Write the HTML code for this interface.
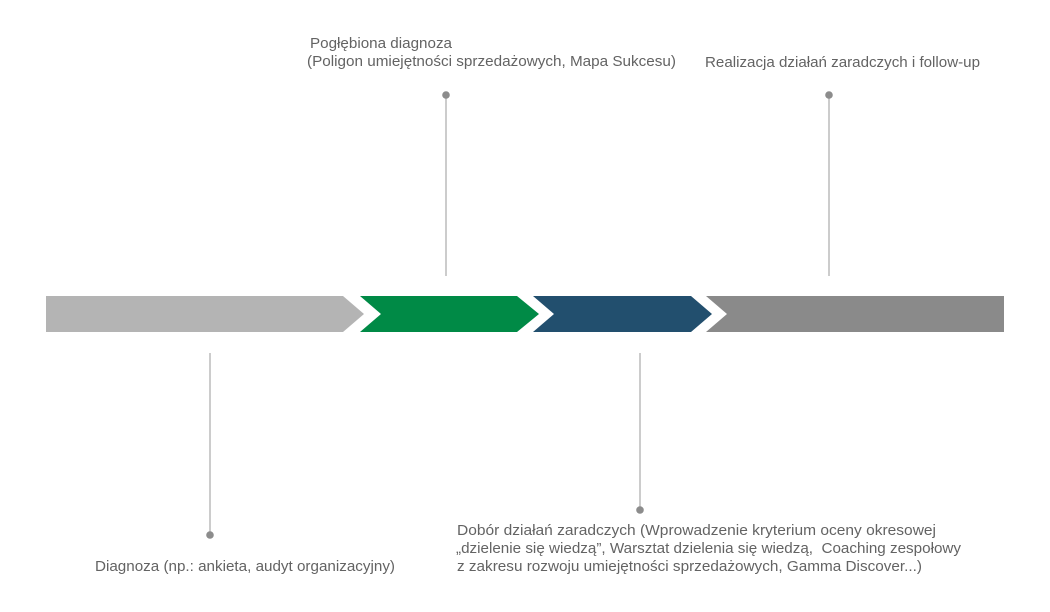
<!DOCTYPE html>
<html>
<head>
<meta charset="utf-8">
<style>
  html, body { margin: 0; padding: 0; background: #ffffff; }
  body { width: 1050px; height: 612px; overflow: hidden; }
  svg { display: block; }
  text { font-family: "Liberation Sans", "DejaVu Sans", sans-serif; font-size: 15px; fill: #636363; }
</style>
</head>
<body>
<svg width="1050" height="612" viewBox="0 0 1050 612" xmlns="http://www.w3.org/2000/svg">
  <rect x="0" y="0" width="1050" height="612" fill="#ffffff"/>

  <!-- connector lines -->
  <line x1="446" y1="95" x2="446" y2="276" stroke="#cccccc" stroke-width="2"/>
  <line x1="829" y1="95" x2="829" y2="276" stroke="#cccccc" stroke-width="2"/>
  <line x1="210" y1="353" x2="210" y2="535" stroke="#cccccc" stroke-width="2"/>
  <line x1="640" y1="353" x2="640" y2="510" stroke="#cccccc" stroke-width="2"/>

  <!-- dots -->
  <circle cx="446" cy="95" r="3.8" fill="#8c8c8c"/>
  <circle cx="829" cy="95" r="3.8" fill="#8c8c8c"/>
  <circle cx="210" cy="535" r="3.8" fill="#8c8c8c"/>
  <circle cx="640" cy="510" r="3.8" fill="#8c8c8c"/>

  <!-- arrow bar -->
  <polygon points="46,296 343,296 364,314 343,332 46,332" fill="#b4b4b4"/>
  <polygon points="360,296 517,296 539,314 517,332 360,332 381,314" fill="#008a46"/>
  <polygon points="533,296 691,296 712,314 691,332 533,332 554,314" fill="#224f6e"/>
  <polygon points="706,296 1004,296 1004,332 706,332 727,314" fill="#8a8a8a"/>

  <!-- labels -->
  <text x="310" y="48" textLength="142" lengthAdjust="spacingAndGlyphs">Pogłębiona diagnoza</text>
  <text x="307" y="66" textLength="369" lengthAdjust="spacingAndGlyphs">(Poligon umiejętności sprzedażowych, Mapa Sukcesu)</text>

  <text x="705" y="67" textLength="275" lengthAdjust="spacingAndGlyphs">Realizacja działań zaradczych i follow-up</text>

  <text x="95" y="571" textLength="300" lengthAdjust="spacingAndGlyphs">Diagnoza (np.: ankieta, audyt organizacyjny)</text>

  <text x="457" y="535" textLength="479" lengthAdjust="spacingAndGlyphs">Dobór działań zaradczych (Wprowadzenie kryterium oceny okresowej</text>
  <text x="456" y="553" textLength="505" lengthAdjust="spacingAndGlyphs" xml:space="preserve">„dzielenie się wiedzą”, Warsztat dzielenia się wiedzą,  Coaching zespołowy</text>
  <text x="457" y="571" textLength="465" lengthAdjust="spacingAndGlyphs">z zakresu rozwoju umiejętności sprzedażowych, Gamma Discover...)</text>
</svg>
</body>
</html>
